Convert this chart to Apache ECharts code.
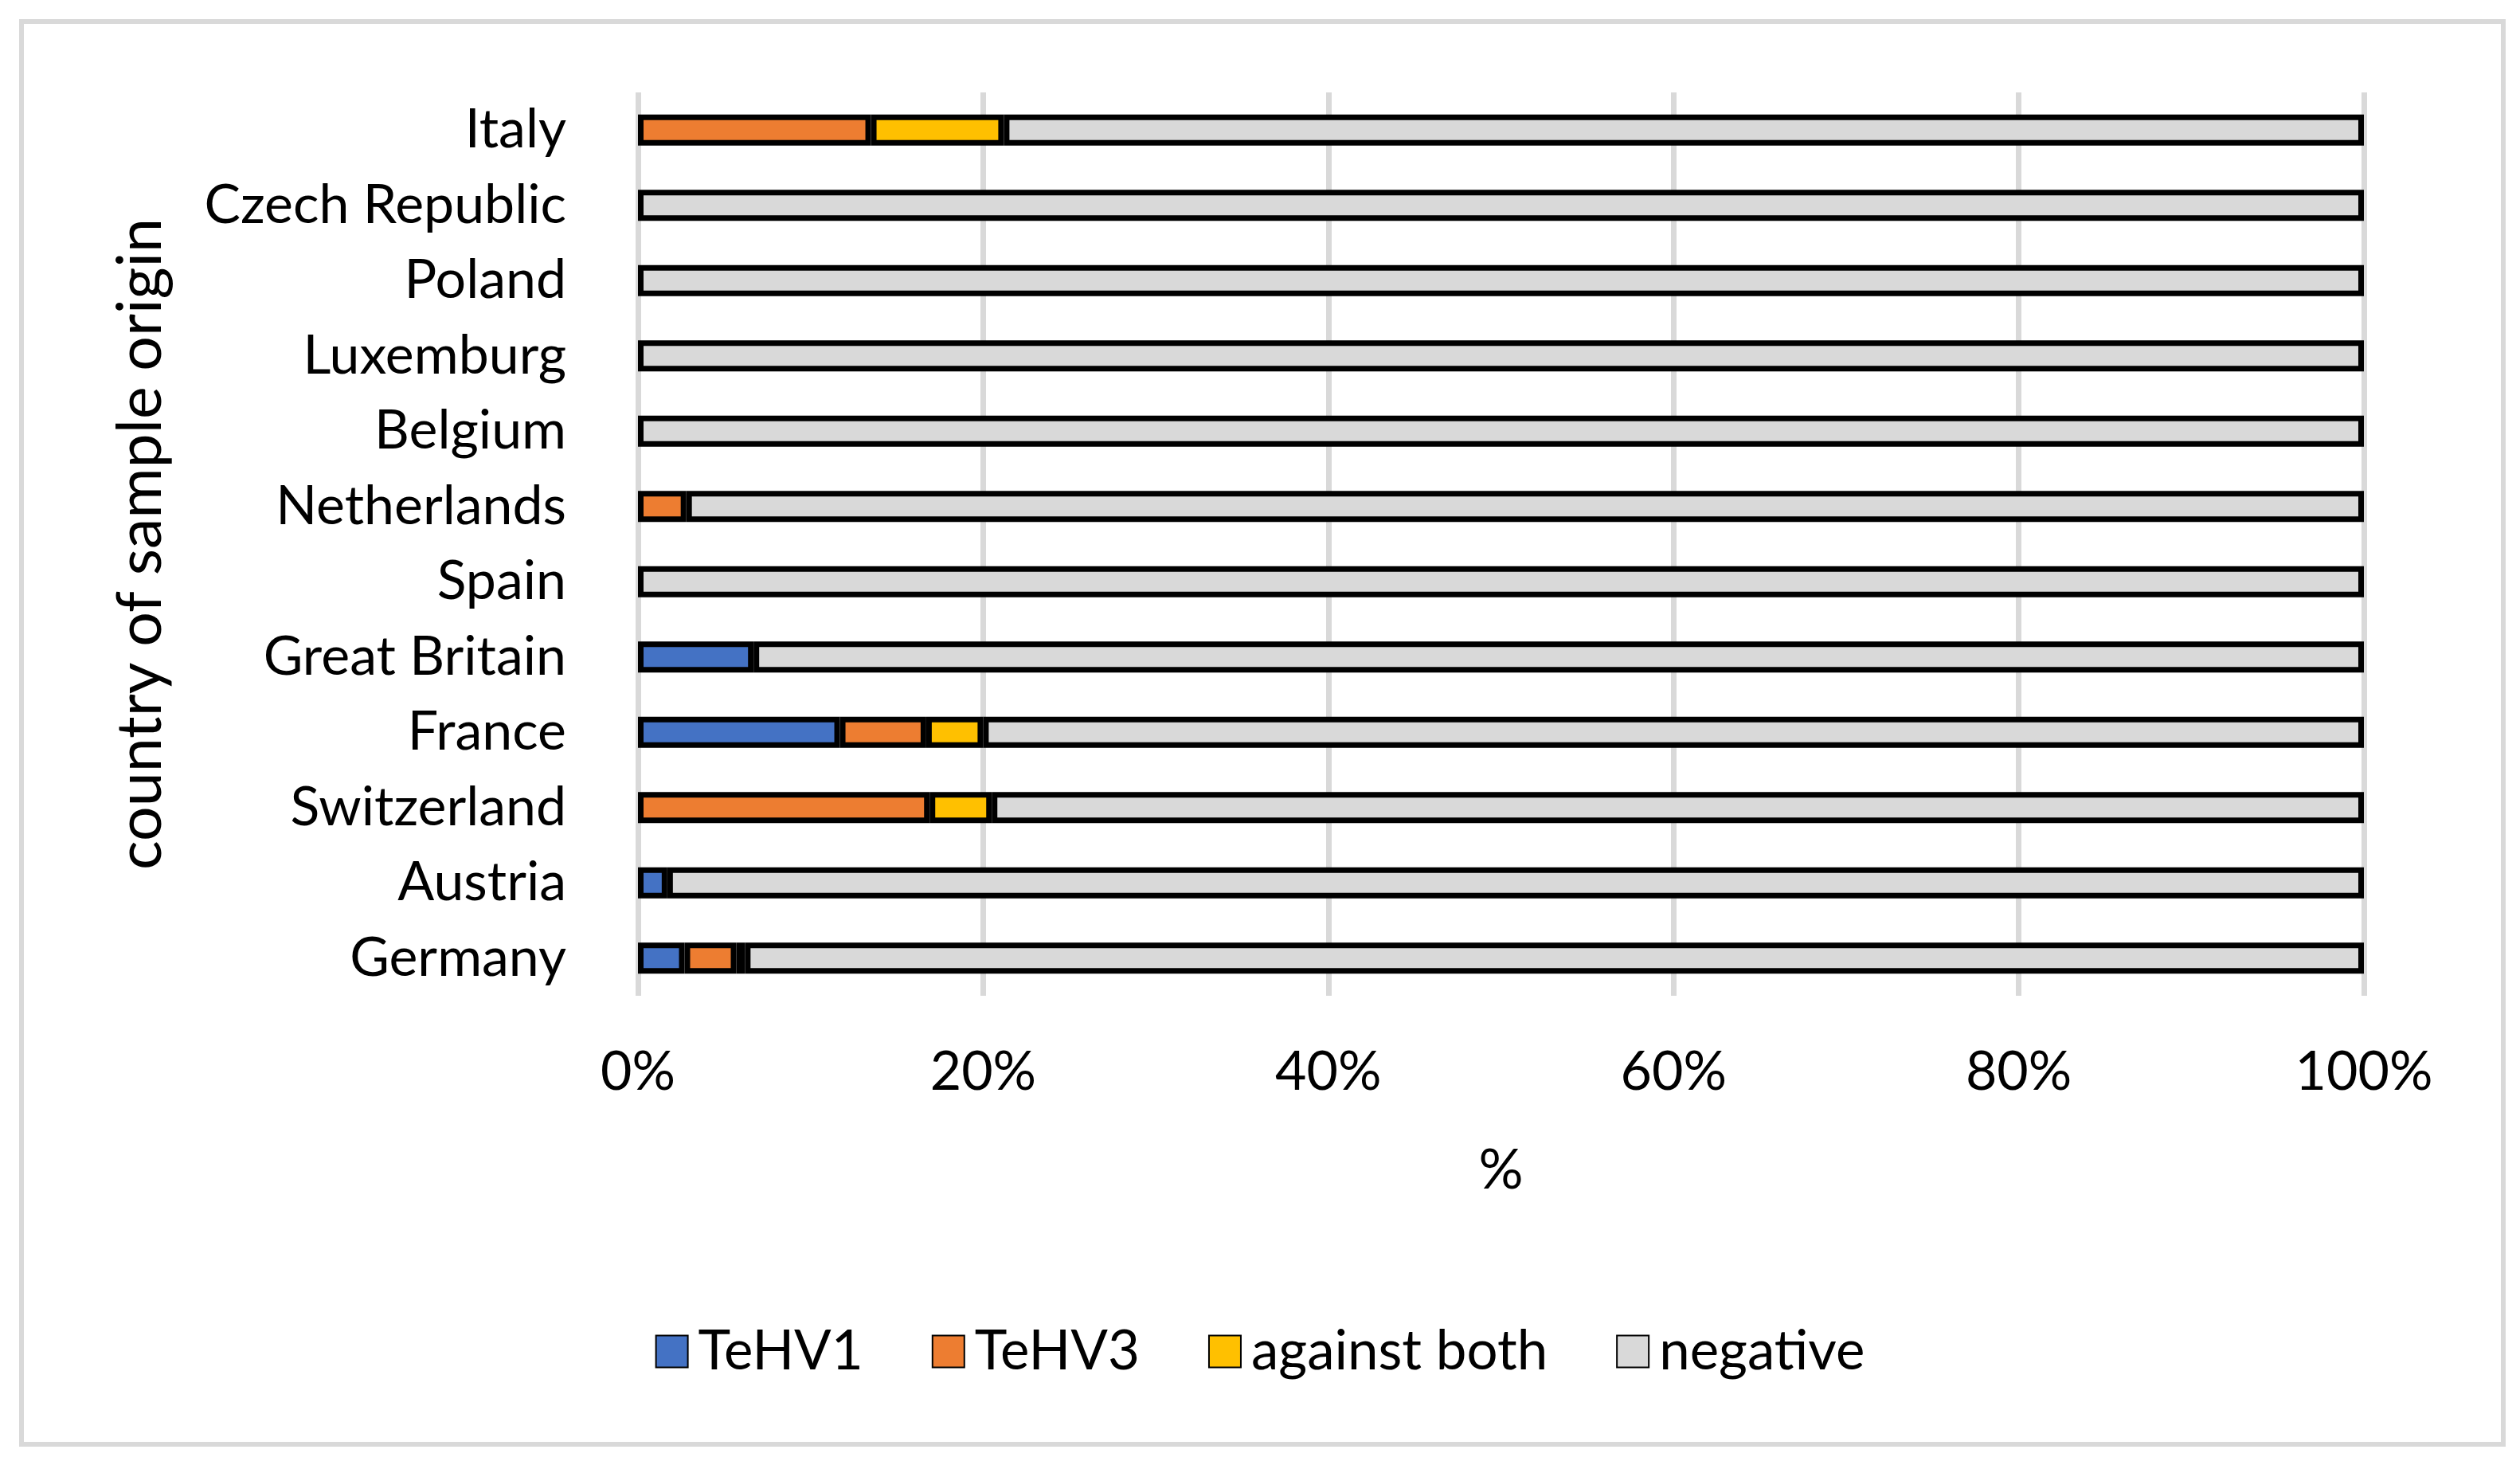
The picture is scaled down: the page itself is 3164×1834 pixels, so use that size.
<!DOCTYPE html>
<html>
<head>
<meta charset="utf-8">
<script src="https://cdn.jsdelivr.net/npm/echarts@6/dist/echarts.min.js"></script>
<style>
html,body{margin:0;padding:0;background:#fff;}
#chart{width:3164px;height:1834px;}
</style>
</head>
<body>
<div id="chart"></div>
<script>
const categories = ['Germany','Austria','Switzerland','France','Great Britain','Spain','Netherlands','Belgium','Luxemburg','Poland','Czech Republic','Italy'];
const tehv1 =        [2.7, 1.7, 0,    11.7, 6.7, 0, 0,   0, 0, 0, 0, 0];
const tehv3 =        [3.0, 0,   16.9, 5.0,  0,   0, 2.8, 0, 0, 0, 0, 13.5];
const againstBoth =  [0.5, 0,   3.6,  3.3,  0,   0, 0,   0, 0, 0, 0, 7.7];
const negative = categories.map((c, i) => +(100 - tehv1[i] - tehv3[i] - againstBoth[i]).toFixed(2));
const xTicks = [0, 20, 40, 60, 80, 100];

const FONT = 'Lato';
const chart = echarts.init(document.getElementById('chart'));
function series(name, data, color) {
  return {
    name, type: 'bar', stack: 'total',
    data: data.map(v => (v === 0 ? '-' : v)),
    barWidth: 39,
    itemStyle: { color, borderColor: '#000', borderWidth: 7 }
  };
}
chart.setOption({
  animation: false,
  backgroundColor: '#fff',
  textStyle: { fontFamily: FONT, color: '#000' },
  graphic: [{
    type: 'rect', left: 24, top: 24,
    shape: { width: 3116, height: 1786 },
    style: { fill: 'none', stroke: '#d9d9d9', lineWidth: 6 }
  }],
  grid: { left: 801, right: 196, top: 116, bottom: 584 },
  legend: {
    data: ['TeHV1','TeHV3','against both','negative'],
    left: 'center', top: 1657,
    itemWidth: 40, itemHeight: 40, itemGap: 86,
    icon: 'rect',
    textStyle: { fontFamily: FONT, fontSize: 69, color: '#000', padding: [0,0,0,8] }
  },
  xAxis: {
    type: 'value', min: 0, max: 100, interval: 20,
    name: '%', nameLocation: 'middle', nameGap: 184,
    nameTextStyle: { fontFamily: FONT, fontSize: 70, color: '#000' },
    axisLine: { show: false }, axisTick: { show: false },
    splitLine: { show: true, lineStyle: { color: '#d9d9d9', width: 7 } },
    axisLabel: { fontFamily: FONT, fontSize: 68, color: '#000', margin: 62,
      formatter: v => xTicks.includes(v) ? v + '%' : '' }
  },
  yAxis: {
    type: 'category', data: categories,
    name: 'country of sample origin', nameLocation: 'middle', nameGap: 585, nameRotate: 90,
    nameTextStyle: { fontFamily: FONT, fontSize: 77, color: '#000' },
    axisLine: { show: false }, axisTick: { show: false },
    axisLabel: { fontFamily: FONT, fontSize: 68, color: '#000', margin: 90 }
  },
  series: [
    series('TeHV1', tehv1, '#4472C4'),
    series('TeHV3', tehv3, '#ED7D31'),
    series('against both', againstBoth, '#FFC000'),
    series('negative', negative, '#D9D9D9')
  ]
});
</script>
</body>
</html>
